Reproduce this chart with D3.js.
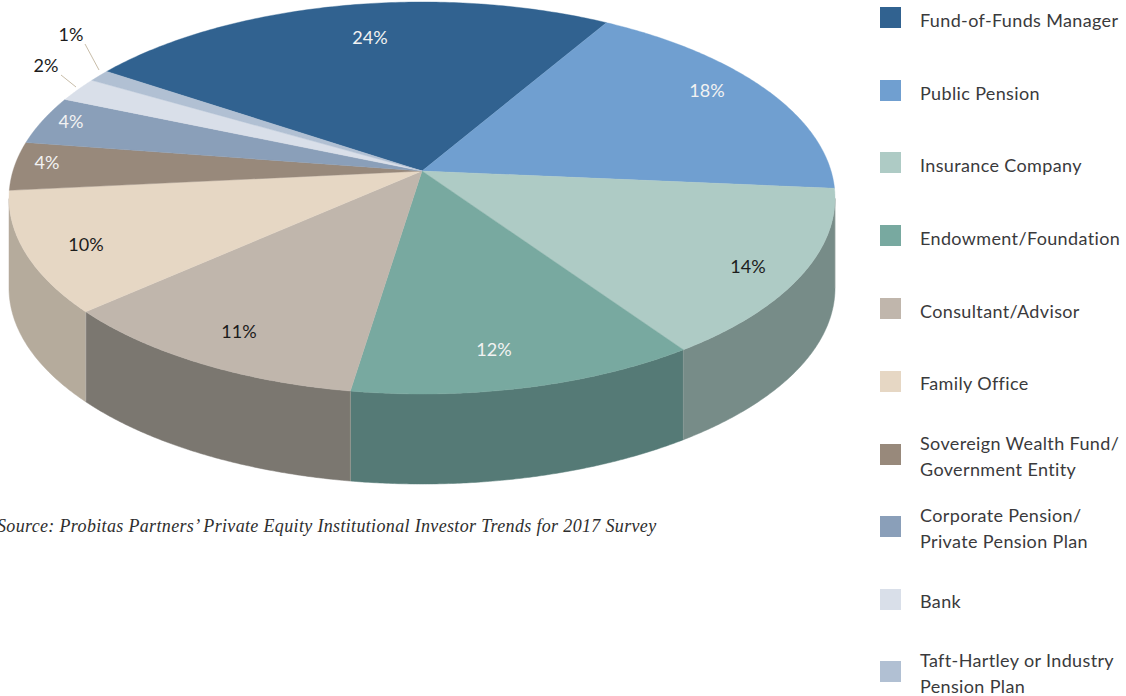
<!DOCTYPE html>
<html><head><meta charset="utf-8">
<script src="https://cdn.jsdelivr.net/npm/d3@7/dist/d3.min.js"></script>
<style>html,body{margin:0;padding:0;background:#fff}svg{display:block}</style>
</head><body><svg id="c" width="1126" height="696"></svg>
<script>
const categories = ["Fund-of-Funds Manager","Public Pension","Insurance Company","Endowment/Foundation","Consultant/Advisor","Family Office","Sovereign Wealth Fund/|Government Entity","Corporate Pension/|Private Pension Plan","Bank","Taft-Hartley or Industry|Pension Plan"];
const shares = [24,18,14,12,11,10,4,4,2,1];
const topColors = ["#316290","#709fd0","#aecbc5","#78a9a0","#c0b6ac","#e6d7c4","#98897b","#8a9fb9","#d9dfe9","#b1c0d3"];
const wallColors = ["#1f3f5d","#486785","#778c88","#557a76","#7b7770","#b5ab9c","#6f6459","#5f6f82","#9aa0a8","#7d8896"];
const labelColors = ["#f2f2f2","#f2f2f2","#1c1c1c","#f2f2f2","#1c1c1c","#1c1c1c","#f2f2f2","#f2f2f2","#1c1c1c","#1c1c1c"];
const labelAnchors = [[370,37],[707,90],[748,266],[494,349],[239,331],[86,244],[47,162],[71,121],[46,65],[71,34]];
const leaders = [null,null,null,null,null,null,null,null,[[61,75],[76,87]],[[85,44],[99,70]]];
const legendTops = [7,80,152,225,298,371,444,516,589,661];
const legendNudge = [2,2,2,2,2,1,1,1,1,1];
const sourceNote = "Source: Probitas Partners’ Private Equity Institutional Investor Trends for 2017 Survey";

const svg = d3.select("#c");
const cx = 422, cy = 198, rx = 413, ry = 196, depth = 90, apexY = 171;
const k = (cy - apexY) / ry, kc = Math.sqrt(1 - k * k);
// circle angle (clockwise from top) -> point on the tilted perspective ellipse
const project = a => {
  const u = Math.sin(a), v = -Math.cos(a), d = 1 - k * v;
  return [cx + rx * u * kc / d, cy + ry * (v - k) / d];
};
const start = -56.1 * Math.PI / 180;
const arcs = d3.pie().sort(null).startAngle(start).endAngle(start + 2 * Math.PI)(shares);
const line = d3.line();
const samples = d => d3.range(0, 121).map(i => project(d.startAngle + (d.endAngle - d.startAngle) * i / 120));

// side wall: only the lower half of the rim is visible
const walls = svg.append("g");
arcs.forEach((d, i) => {
  const front = samples(d).filter(p => p[1] >= cy);
  if (front.length < 2) return;
  const poly = front.concat(front.slice().reverse().map(p => [p[0], p[1] + depth]));
  walls.append("path").attr("d", line(poly) + "Z").attr("fill", wallColors[i])
    .attr("stroke", wallColors[i]).attr("stroke-width", 0.5);
  walls.append("line").attr("x1", front[0][0]).attr("x2", front[0][0])
    .attr("y1", front[0][1]).attr("y2", front[0][1] + depth)
    .attr("stroke", "#b9b9b4").attr("stroke-width", 0.4);
});

// top surface
const tops = svg.append("g");
arcs.forEach((d, i) => {
  tops.append("path").attr("d", line([[cx, apexY], ...samples(d)]) + "Z")
    .attr("fill", topColors[i]).attr("stroke", topColors[i]).attr("stroke-width", 0.4);
});

// value labels
const labelFont = "Lato, 'Open Sans', sans-serif";
shares.forEach((v, i) => {
  svg.append("text").attr("x", labelAnchors[i][0]).attr("y", labelAnchors[i][1])
    .attr("text-anchor", "middle").attr("dominant-baseline", "central")
    .attr("font-family", labelFont).attr("font-size", 18).attr("fill", labelColors[i]).text(v + "%");
  if (leaders[i]) svg.append("path").attr("d", line(leaders[i])).attr("fill", "none")
    .attr("stroke", "#c8bda9").attr("stroke-width", 1);
});

// legend
categories.forEach((name, i) => {
  const y = legendTops[i];
  svg.append("rect").attr("x", 880).attr("y", y).attr("width", 21).attr("height", 21).attr("fill", topColors[i]);
  const rows = name.split("|");
  rows.forEach((t, j) => {
    svg.append("text").attr("x", 920)
      .attr("y", y + 10.5 + legendNudge[i] + (rows.length === 1 ? 0 : (j === 0 ? -13 : 13)))
      .attr("dominant-baseline", "central")
      .attr("font-family", labelFont).attr("font-size", 18).attr("letter-spacing", 0.36)
      .attr("fill", "#3a3a3c").text(t);
  });
});

svg.append("text").attr("x", -3).attr("y", 532)
  .attr("font-family", "'Liberation Serif', serif").attr("font-style", "italic")
  .attr("font-size", 18).attr("letter-spacing", 0.34).attr("fill", "#2e2e2e").text(sourceNote);
</script></body></html>
